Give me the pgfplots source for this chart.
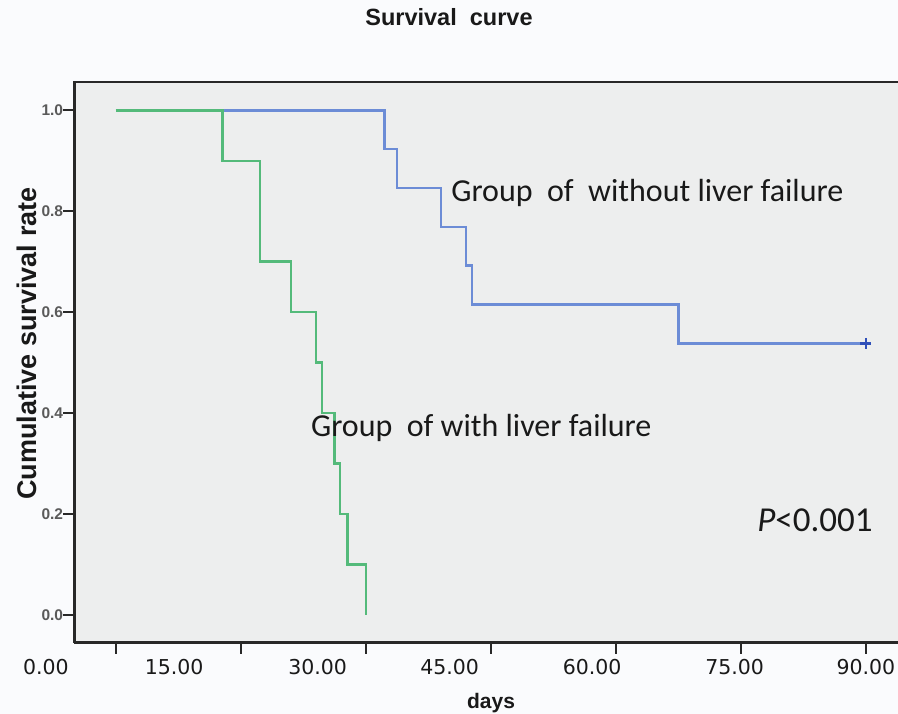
\documentclass[border=0pt]{standalone}
\usepackage{pgfplots}
\pgfplotsset{compat=1.18}
\usepackage{fontspec}
\setmainfont{Liberation Sans}
\newfontfamily\carlito{Carlito}
\newfontfamily\dejavu{DejaVu Sans}
\definecolor{bgout}{RGB}{250,251,253}
\definecolor{bgin}{RGB}{237,238,238}
\definecolor{kmgreen}{RGB}{84,186,122}
\definecolor{kmblue}{RGB}{108,140,214}
\definecolor{kmblued}{RGB}{48,80,185}
\definecolor{axcol}{RGB}{40,40,40}
\definecolor{txt}{RGB}{25,25,25}
\definecolor{ytl}{RGB}{90,90,90}
\begin{document}
\begin{tikzpicture}
\path[use as bounding box, fill=bgout] (-74.3pt,-71.3pt) rectangle (823.7pt,642.7pt);
\begin{axis}[
  at={(0pt,0pt)}, anchor=south west,
  scale only axis, width=823.7pt, height=560.7pt,
  xmin=-5, xmax=93.85, ymin=-0.0549, ymax=1.0561,
  axis x line*=bottom, axis y line*=left,
  axis line style={line width=2.5pt, color=axcol},
  axis background/.style={fill=bgin},
  tick align=outside,
  major tick length=11pt,
  major tick style={line width=2.2pt, color=axcol},
  xtick={0,15,30,45,60,75,90},
  xticklabels={\makebox[0pt]{\hspace*{-140.2pt}0.00},
               \makebox[0pt]{\hspace*{-133.6pt}15.00},
               \makebox[0pt]{\hspace*{-96.6pt}30.00},
               \makebox[0pt]{\hspace*{-82.6pt}45.00},
               \makebox[0pt]{\hspace*{-47.6pt}60.00},
               \makebox[0pt]{\hspace*{-12.6pt}75.00},
               \makebox[0pt]{90.00}},
  xticklabel style={font=\dejavu\fontsize{20.5}{24}\selectfont, text=txt, anchor=base, yshift=-20.6pt},
  ytick={0,0.2,0.4,0.6,0.8,1},
  yticklabels={0.0,0.2,0.4,0.6,0.8,1.0},
  yticklabel style={font=\fontsize{15.5}{18}\selectfont\bfseries, text=ytl, inner sep=0pt},
  title={Survival\ \ curve},
  title style={at={(axis description cs:0.4549,1.0892)}, anchor=base, font=\fontsize{23.5}{28}\selectfont\bfseries, text=txt},
  xlabel={days},
  xlabel style={at={(axis description cs:0.5059,-0.1165)}, anchor=base, font=\fontsize{21}{25}\selectfont\bfseries, text=txt},
  ylabel={Cumulative survival rate},
  ylabel style={at={(axis description cs:-0.0453,0.5336)}, anchor=base, font=\fontsize{27}{32}\selectfont\bfseries, text=txt},
]
% Group without liver failure
\addplot[const plot, color=kmblue, line width=2.5pt] coordinates {
  (0,1) (32.22,0.923) (33.71,0.846) (38.99,0.769) (41.99,0.692) (42.71,0.615) (67.50,0.538) (90,0.538)
};
\addplot[only marks, mark=+, mark size=5.5pt, color=kmblued, line width=2.8pt] coordinates {(90,0.538)};
% Group with liver failure
\addplot[const plot, color=kmgreen, line width=2.5pt] coordinates {
  (0,1) (12.78,0.9) (17.30,0.7) (21.02,0.6) (23.99,0.5) (24.71,0.4) (26.22,0.3) (26.90,0.2) (27.78,0.1) (29.99,0.0)
};
\node[anchor=base west, font=\carlito\fontsize{32}{38}\selectfont, text=txt, inner sep=0pt] at (axis cs:40.22,0.820) {Group\ \ of\ \ without liver failure};
\node[anchor=base west, font=\carlito\fontsize{32}{38}\selectfont, text=txt, inner sep=0pt] at (axis cs:23.39,0.3533) {Group\ \ of with liver failure};
\node[anchor=base west, font=\carlito\fontsize{35}{40}\selectfont, text=txt, inner sep=0pt] at (axis cs:76.94,0.165) {\textit{P}<0.001};
\end{axis}
\draw[line width=2.5pt, color=axcol] (-1.25pt,560.7pt) -- (830pt,560.7pt);
\end{tikzpicture}
\end{document}
